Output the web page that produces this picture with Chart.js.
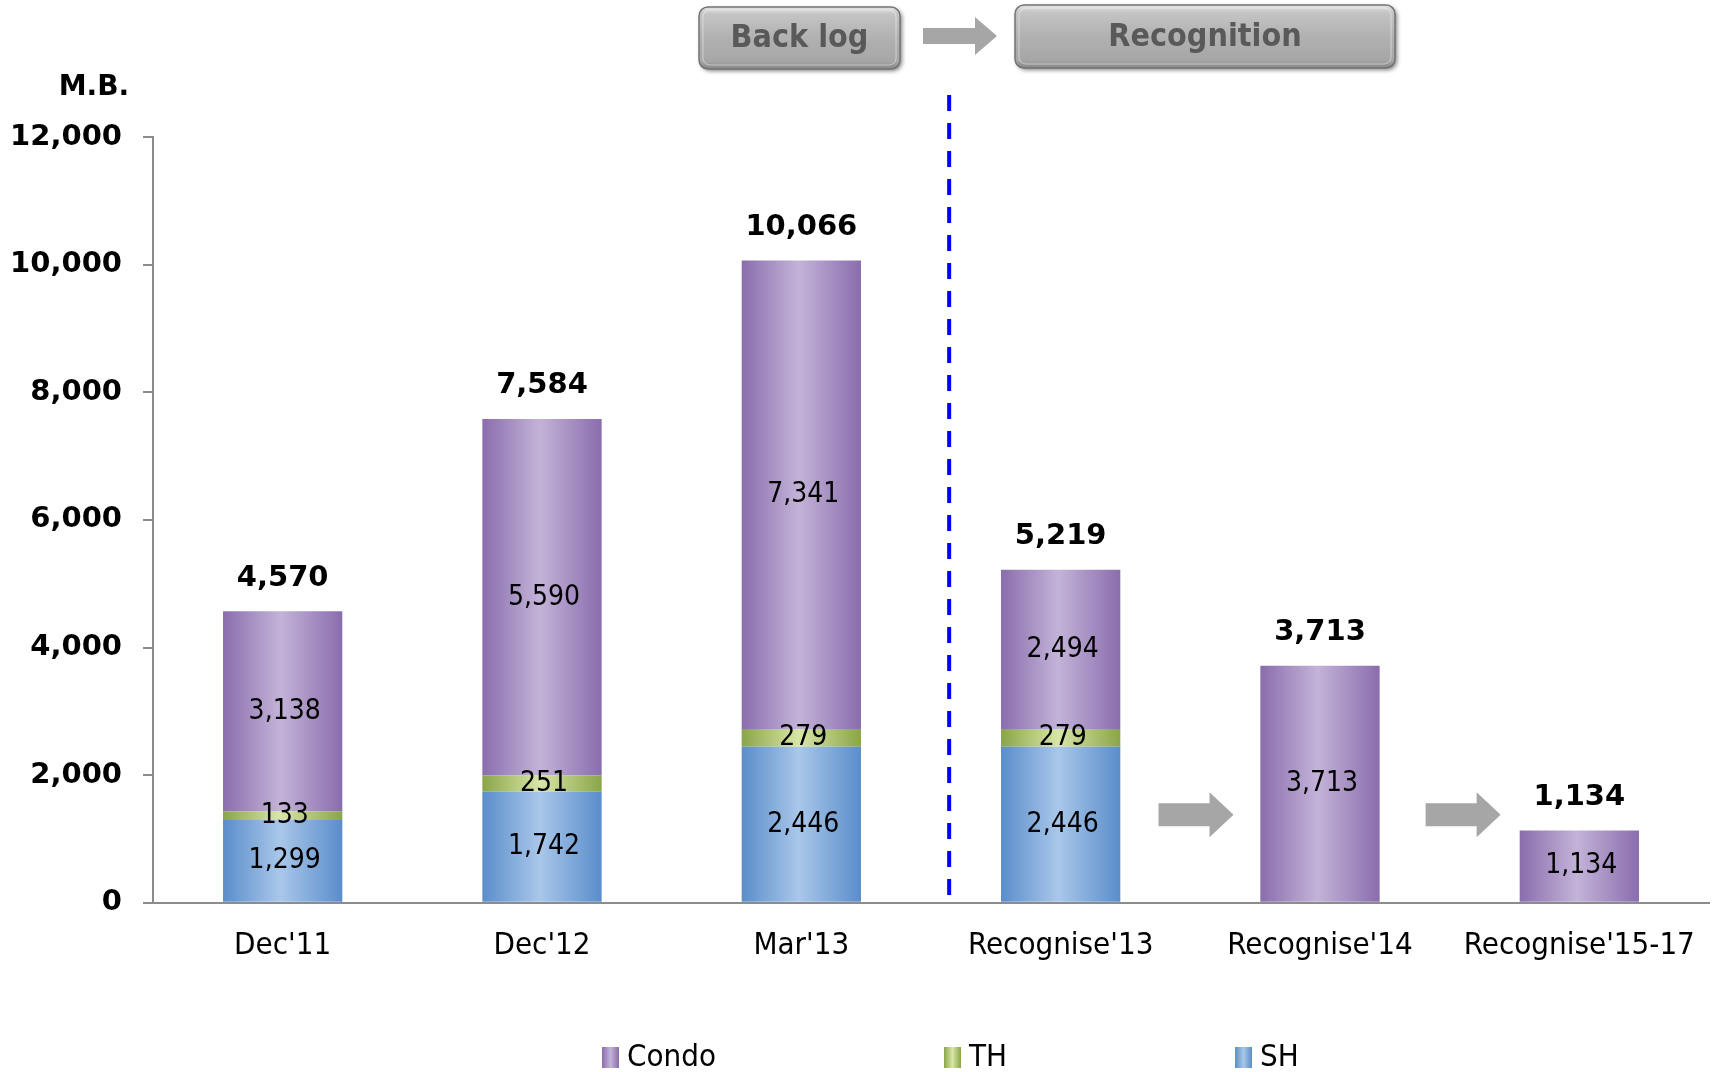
<!DOCTYPE html>
<html>
<head>
<meta charset="utf-8">
<title>Backlog and recognition</title>
<script src="https://cdn.jsdelivr.net/npm/chart.js@4.4.1/dist/chart.umd.min.js"></script>
<style>
  html, body { margin: 0; padding: 0; background: #fff; }
  #chart { display: block; }
</style>
</head>
<body>
<canvas id="chart" width="1712" height="1072"></canvas>
<script>
const CATEGORIES = ["Dec'11", "Dec'12", "Mar'13", "Recognise'13", "Recognise'14", "Recognise'15-17"];
const SH = [1299, 1742, 2446, 2446, null, null];
const TH = [133, 251, 279, 279, null, null];
const CONDO = [3138, 5590, 7341, 2494, 3713, 1134];
const TOTALS = [4570, 7584, 10066, 5219, 3713, 1134];
const Y_TICKS = [0, 2000, 4000, 6000, 8000, 10000, 12000];
const UNIT = 'M.B.';
const PHASES = ['Back log', 'Recognition'];

const FONT = "'DejaVu Sans', Verdana, sans-serif";
const FONT_NARROW = "'DejaVu Sans Condensed', 'DejaVu Sans', sans-serif";
const BAR_PCT = 0.46;

// edge / centre colours for the cylinder-like shading
const SHADES = {
  Condo: ['#8a6dad', '#c3b3d8'],
  TH: ['#8aa548', '#d8e6a6'],
  SH: ['#5a8dcb', '#a9c7e9'],
};

Chart.defaults.font.family = FONT;
Chart.defaults.color = '#000';

const fmt = (v) => v.toLocaleString('en-US');

function shade(name) {
  const [edge, mid] = SHADES[name];
  return (ctx) => {
    const chart = ctx.chart;
    const x = chart.scales.x;
    if (ctx.type !== 'data' || !x || !x.width) return mid;
    const cx = x.getPixelForValue(ctx.dataIndex);
    const half = (x.width / CATEGORIES.length) * BAR_PCT / 2;
    const g = chart.ctx.createLinearGradient(cx - half, 0, cx + half, 0);
    g.addColorStop(0, edge);
    g.addColorStop(0.48, mid);
    g.addColorStop(1, edge);
    return g;
  };
}

function blockArrow(ctx, x0, yc, len, shaftH, headH, headLen) {
  ctx.beginPath();
  ctx.moveTo(x0, yc - shaftH / 2);
  ctx.lineTo(x0 + len - headLen, yc - shaftH / 2);
  ctx.lineTo(x0 + len - headLen, yc - headH / 2);
  ctx.lineTo(x0 + len, yc);
  ctx.lineTo(x0 + len - headLen, yc + headH / 2);
  ctx.lineTo(x0 + len - headLen, yc + shaftH / 2);
  ctx.lineTo(x0, yc + shaftH / 2);
  ctx.closePath();
  ctx.fillStyle = '#a6a6a6';
  ctx.fill();
}

function roundRect(ctx, x, y, w, h, r) {
  ctx.beginPath();
  ctx.moveTo(x + r, y);
  ctx.arcTo(x + w, y, x + w, y + h, r);
  ctx.arcTo(x + w, y + h, x, y + h, r);
  ctx.arcTo(x, y + h, x, y, r);
  ctx.arcTo(x, y, x + w, y, r);
  ctx.closePath();
}

function phaseButton(ctx, x, y, w, h, text) {
  ctx.save();
  roundRect(ctx, x, y, w, h, 9);
  ctx.shadowColor = 'rgba(0,0,0,0.5)';
  ctx.shadowBlur = 4;
  ctx.shadowOffsetX = 2;
  ctx.shadowOffsetY = 2;
  const g = ctx.createLinearGradient(0, y, 0, y + h);
  g.addColorStop(0, '#e4e4e4');
  g.addColorStop(0.12, '#c4c4c4');
  g.addColorStop(0.5, '#b1b1b1');
  g.addColorStop(0.88, '#a6a6a6');
  g.addColorStop(1, '#868686');
  ctx.fillStyle = g;
  ctx.fill();
  ctx.shadowColor = 'transparent';
  ctx.lineWidth = 1.5;
  ctx.strokeStyle = '#747474';
  ctx.stroke();
  roundRect(ctx, x + 4, y + 3, w - 8, h - 7, 7);
  ctx.lineWidth = 1;
  ctx.strokeStyle = 'rgba(255,255,255,0.45)';
  ctx.stroke();
  ctx.fillStyle = '#595959';
  ctx.font = `bold 32px ${FONT_NARROW}`;
  ctx.textAlign = 'center';
  ctx.textBaseline = 'middle';
  ctx.fillText(text, x + w / 2, y + h / 2 + 1);
  ctx.restore();
}

// labels inside each segment and the totals above each stack
const valueLabels = {
  id: 'valueLabels',
  afterDatasetsDraw(chart) {
    const { ctx } = chart;
    ctx.save();
    ctx.textAlign = 'center';
    ctx.textBaseline = 'middle';
    ctx.fillStyle = '#000';
    ctx.font = `28px ${FONT_NARROW}`;
    chart.data.datasets.forEach((ds, i) => {
      chart.getDatasetMeta(i).data.forEach((bar, j) => {
        const v = ds.data[j];
        if (v == null) return;
        ctx.fillText(fmt(v), bar.x + 2, (bar.y + bar.base) / 2);
      });
    });
    ctx.font = `bold 29px ${FONT}`;
    const x = chart.scales.x, y = chart.scales.y;
    TOTALS.forEach((t, j) => {
      ctx.fillText(fmt(t), x.getPixelForValue(j), y.getPixelForValue(t) - 33);
    });
    ctx.restore();
  },
};

// divider, phase buttons, arrows, unit and legend
const decorations = {
  id: 'decorations',
  afterDraw(chart) {
    const { ctx, chartArea } = chart;
    const x = chart.scales.x, y = chart.scales.y;
    ctx.save();

    ctx.strokeStyle = '#0000ff';
    ctx.lineWidth = 4;
    ctx.setLineDash([16, 12]);
    const dx = x.getPixelForValue(2.57);
    ctx.beginPath();
    ctx.moveTo(dx, 95);
    ctx.lineTo(dx, chartArea.bottom - 6);
    ctx.stroke();
    ctx.setLineDash([]);

    phaseButton(ctx, 699, 7, 201, 62, PHASES[0]);
    phaseButton(ctx, 1015, 5, 380, 63, PHASES[1]);
    blockArrow(ctx, 923, 36, 74, 16, 38, 22);

    const ay = y.getPixelForValue(1380);
    blockArrow(ctx, x.getPixelForValue(3.52) - 37, ay, 75, 23, 45, 24);
    blockArrow(ctx, x.getPixelForValue(4.55) - 37, ay, 75, 23, 45, 24);

    ctx.fillStyle = '#000';
    ctx.font = `bold 28px ${FONT}`;
    ctx.textAlign = 'center';
    ctx.textBaseline = 'middle';
    ctx.fillText(UNIT, 94, 88);

    // legend: Condo, TH, SH
    ctx.font = `31px ${FONT_NARROW}`;
    ctx.textAlign = 'left';
    let lx = 602;
    const ly = 1057;
    [...chart.data.datasets].reverse().forEach((ds) => {
      const [edge, mid] = SHADES[ds.label];
      const g = ctx.createLinearGradient(lx, 0, lx + 17, 0);
      g.addColorStop(0, edge);
      g.addColorStop(0.5, mid);
      g.addColorStop(1, edge);
      ctx.fillStyle = g;
      ctx.fillRect(lx, ly - 10, 17, 21);
      ctx.fillStyle = '#000';
      ctx.fillText(ds.label, lx + 25, ly + 1);
      lx += 25 + ctx.measureText(ds.label).width + 228;
    });
    ctx.restore();
  },
};

new Chart(document.getElementById('chart'), {
  type: 'bar',
  data: {
    labels: CATEGORIES,
    datasets: [
      { label: 'SH', data: SH, backgroundColor: shade('SH') },
      { label: 'TH', data: TH, backgroundColor: shade('TH') },
      { label: 'Condo', data: CONDO, backgroundColor: shade('Condo') },
    ],
  },
  options: {
    responsive: false,
    animation: false,
    events: [],
    layout: { padding: { top: 137, left: 0, right: 3, bottom: 82 } },
    datasets: { bar: { categoryPercentage: 1, barPercentage: BAR_PCT, borderWidth: 0 } },
    plugins: { legend: { display: false }, tooltip: { enabled: false } },
    scales: {
      x: {
        stacked: true,
        // the axis runs right to the canvas edge; labels may overhang it
        afterFit: (scale) => { scale.paddingLeft = 0; scale.paddingRight = 0; },
        grid: { display: false, drawTicks: false },
        border: { display: true, color: '#8c8c8c', width: 2 },
        ticks: { font: { size: 31, family: FONT_NARROW }, padding: 25, maxRotation: 0, autoSkip: false },
      },
      y: {
        stacked: true,
        min: Y_TICKS[0],
        max: Y_TICKS[Y_TICKS.length - 1],
        afterFit: (scale) => { scale.width = 153; },
        grid: { display: true, drawOnChartArea: false, drawTicks: true, tickLength: 10, color: '#8c8c8c', lineWidth: 2 },
        border: { display: true, color: '#8c8c8c', width: 2 },
        ticks: {
          stepSize: Y_TICKS[1] - Y_TICKS[0],
          padding: 21,
          font: { size: 29, weight: 'bold' },
          callback: (v) => fmt(v),
        },
      },
    },
  },
  plugins: [valueLabels, decorations],
});
</script>
</body>
</html>
